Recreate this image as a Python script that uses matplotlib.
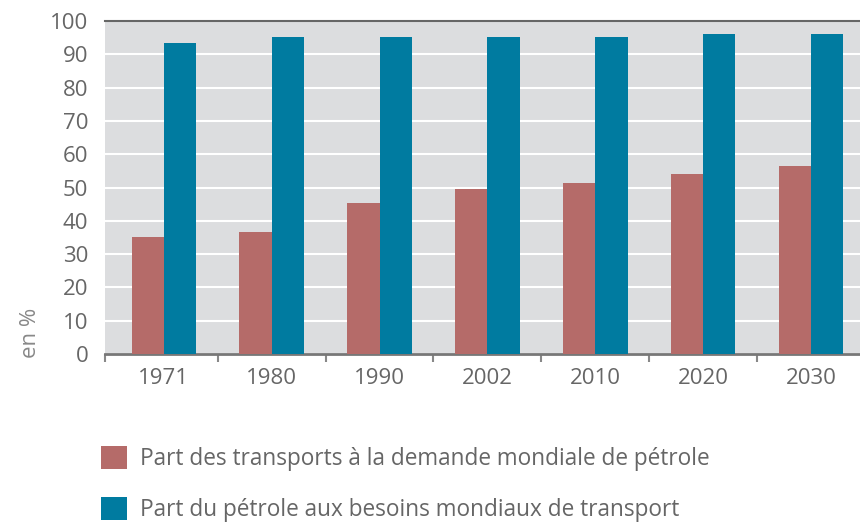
import matplotlib
matplotlib.use("Agg")
import matplotlib.pyplot as plt
import numpy as np

years = ["1971", "1980", "1990", "2002", "2010", "2020", "2030"]
transport_share = [35, 36.5, 45.3, 49.5, 51.5, 54, 56.6]   # share of transport in world oil demand
oil_share = [93.4, 95.2, 95.2, 95.2, 95.2, 96, 96]          # share of oil in world transport needs
labels = ["Part des transports à la demande mondiale de pétrole",
          "Part du pétrole aux besoins mondiaux de transport"]

RED = "#b56b69"
TEAL = "#007ba0"
GREY_TXT = "#666666"

plt.rcParams['font.family'] = ['Open Sans', 'DejaVu Sans']

fig = plt.figure(figsize=(8.6, 5.25), dpi=100)
ax = fig.add_axes([105 / 860, 1 - 354 / 525, 755 / 860, 333 / 525])
ax.set_facecolor("#dcdddf")

x = np.arange(len(years))
w = 0.3
ax.bar(x - w / 2, transport_share, w, color=RED, label=labels[0], zorder=3)
ax.bar(x + w / 2, oil_share, w, color=TEAL, label=labels[1], zorder=3)

left = -0.546
ax.set_xlim(left, 6.455)
ax.set_ylim(0, 100)
ax.set_yticks(np.arange(0, 101, 10))
ax.yaxis.grid(True, color="white", linewidth=1.5, zorder=1)
ax.set_axisbelow(True)

ax.set_xticks(x)
ax.set_xticklabels(years)
ax.set_xticks([left] + list(np.arange(0.5, len(years) - 1)), minor=True)
ax.tick_params(axis="x", which="major", length=0, pad=10, labelsize=16, labelcolor=GREY_TXT)
ax.tick_params(axis="x", which="minor", length=6, width=1.5, color="#888888")
ax.tick_params(axis="y", length=0, pad=12, labelsize=16, labelcolor=GREY_TXT)

for s in ["left", "right"]:
    ax.spines[s].set_visible(False)
ax.spines["top"].set_color("#666666")
ax.spines["top"].set_linewidth(1.5)
ax.spines["bottom"].set_color("#777777")
ax.spines["bottom"].set_linewidth(2)

fig.text(30 / 860, 1 - 333 / 525, "en %", rotation=90, ha="center", va="center",
         fontsize=16, color="#888888")

fig.legend(loc="upper left", bbox_to_anchor=(81 / 860, 1 - 426 / 525), frameon=False,
           fontsize=16.3, handlelength=1.15, handleheight=1.15, handletextpad=0.55,
           labelspacing=1.15, labelcolor=GREY_TXT)

fig.savefig("out.png", dpi=100)
